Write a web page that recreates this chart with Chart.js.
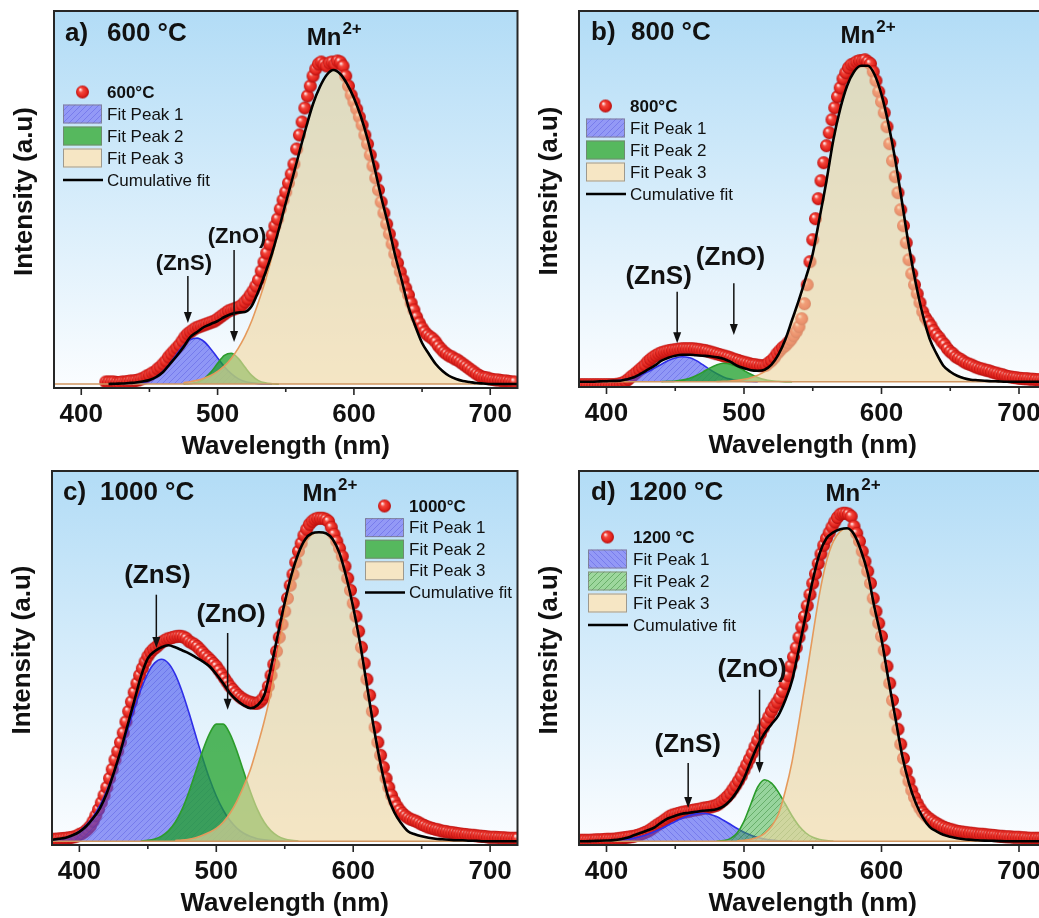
<!DOCTYPE html>
<html>
<head>
<meta charset="utf-8">
<title>PL deconvolution</title>
<script src="https://cdn.jsdelivr.net/npm/chart.js@4.4.0/dist/chart.umd.min.js"></script>
<style>
  html, body { margin: 0; padding: 0; background: #fff; width: 1039px; height: 918px; overflow: hidden; position: relative; }
  canvas { position: absolute; }
</style>
</head>
<body>
<canvas id="pa" width="525" height="470" style="left:0;top:0"></canvas>
<canvas id="pb" width="535" height="470" style="left:519px;top:0"></canvas>
<canvas id="pc" width="525" height="459" style="left:0;top:459px"></canvas>
<canvas id="pd" width="535" height="459" style="left:519px;top:459px"></canvas>
<script>
// labels
const xTitle = 'Wavelength (nm)';
const yTitle = 'Intensity (a.u)';
const xTicks = [400, 500, 600, 700];
const xMinorTicks = [450, 550, 650];
const panelLetters = ['a)', 'b)', 'c)', 'd)'];
const panelTemps = ['600 °C', '800 °C', '1000 °C', '1200 °C'];
const sampleLabels = ['600°C', '800°C', '1000°C', '1200 °C'];
const legendLabels = ['Fit Peak 1', 'Fit Peak 2', 'Fit Peak 3', 'Cumulative fit'];

// a) 600 °C  -- measured points every 2 nm from 418 nm, fitted curves every 5 nm
const a_dataStart = 418, a_dataStep = 2;
const a_data = [2, 2, 2, 2, 1.5, 1.5, 2, 2, 2.5, 3,
  3, 3.5, 4, 5, 6, 8, 9, 11, 12, 15,
  17, 20, 23, 27, 30, 33, 36, 39, 43, 47,
  50, 52, 54, 56, 57, 58, 59, 60, 61, 62,
  63, 65, 67, 69, 71, 73, 74, 75, 76, 77,
  79, 82, 85, 89, 93, 98, 104, 113, 122, 131,
  140, 149, 158, 165, 175, 184, 192, 201, 210, 220,
  235, 249, 262, 276, 288, 298, 308, 315, 320, 322,
  320, 318, 321, 322, 320, 323, 322, 318, 308, 298,
  289, 282, 275, 267, 259, 249, 240, 229, 218, 206,
  194, 182, 171, 160, 150, 140, 130, 121, 112, 104,
  96, 89, 81, 74, 67, 61, 56, 52, 49, 47,
  45, 42, 38, 35, 32, 30, 28, 27, 25, 24,
  22, 20, 18, 16, 14, 12, 10, 8.5, 7, 6.5,
  6, 5, 4.5, 4, 4, 3.5, 3, 3, 2.5, 2,
  2];
const a_peak1Start = 430;
const a_peak1 = [0.1, 0.2, 0.6, 1.6, 3.5, 7.1, 12.8, 20.6, 29.8, 38.4, 44.4, 45.9, 42.5, 35.1, 26, 17.3, 10.3, 5.4, 2.6, 1.1, 0.4, 0.1, 0];
const a_peak2Start = 475;
const a_peak2 = [0.1, 0.5, 1.7, 5.1, 11.6, 20.7, 28.6, 30.8, 25.9, 16.9, 8.6, 3.4, 1.1, 0.3, 0];
const a_peak3Start = 475;
const a_peak3 = [1.4, 2.3, 3.6, 5.7, 8.5, 12.6, 18.1, 25.6, 35.4, 47.7, 63, 82, 103, 128, 155, 181, 206, 232, 257, 280,
  297, 309, 314, 310, 300, 286, 268, 245, 217, 187, 160, 130, 104, 77, 58, 41, 30, 20, 13, 8, 5, 3, 2, 1, 0.5, 0, 0];
const a_fitStart = 420;
const a_fit = [0, 0.3, 0.5, 1, 1.5, 2.5, 4, 7, 12, 20, 28, 37, 47, 52, 57, 60, 63, 67, 70, 71.5,
  72, 78, 93, 111, 131, 155, 181, 206, 232, 257, 280, 297, 309, 314, 310, 300, 286, 268, 245, 217,
  187, 160, 130, 104, 77, 58, 41, 30, 20, 13, 8, 5, 3, 2, 1, 0.5, 0, 0, 0, 0, 0];

// b) 800 °C
const b_dataStart = 380, b_dataStep = 2;
const b_data = [-3, -3, -3, -3, -3, -3, -3, -3, -3, -3,
  -3, -3, -3, -3, -2.5, -2, -1.2, 0.5, 2.5, 5,
  7, 9.4, 11.8, 14.2, 16.8, 20, 22.4, 24.5, 26.3, 27.8,
  29, 29.8, 30.6, 31.2, 31.6, 32, 32.4, 32.8, 33, 33,
  33, 33, 32.7, 32.4, 32, 31.5, 31.1, 30.4, 29.6, 28.8,
  28, 27.2, 26.4, 25.6, 24.8, 24, 22.8, 22, 21.2, 20.3,
  19.5, 18.7, 18, 17.3, 17, 16.5, 16, 16, 16.5, 19,
  21, 24, 28, 31, 34, 36, 39, 42, 46, 50,
  55, 63, 78, 97, 120, 142, 163, 183, 201, 219,
  236, 249, 262, 274, 285, 294, 303, 309, 314, 317,
  318, 320, 321, 321, 322, 320, 318, 310, 301, 290,
  280, 269, 255, 238, 221, 205, 189, 172, 156, 139,
  122, 108, 97, 88, 79, 70, 64, 60, 56, 51,
  47, 44, 40, 37, 33, 30, 28, 25, 23.5, 22,
  20, 18.5, 17.5, 16.5, 15, 14, 13, 12.5, 11.5, 11,
  10, 9, 8.5, 7.5, 7, 6, 5.2, 4.7, 4.3, 4,
  3.5, 3.2, 3, 3, 2.5, 2.5, 2.2, 2, 2, 2];
const b_peak1Start = 400;
const b_peak1 = [0.3, 0.7, 1.3, 2.4, 4.1, 6.6, 9.8, 13.7, 17.5, 21.2, 23.8, 25, 24.2, 21.3, 17, 12.3, 8.2, 4.8, 2.6, 1.3, 0.6, 0.2, 0];
const b_peak2Start = 440;
const b_peak2 = [0.1, 0.3, 0.6, 1.6, 3.3, 6, 9.6, 13.6, 16.8, 18.5, 17.8, 15.1, 11.2, 7.4, 4.3, 2.1, 0.9, 0.4, 0.1, 0];
const b_peak3Start = 480;
const b_peak3 = [0.2, 0.4, 0.7, 1.3, 2.3, 4, 6.5, 10, 16, 26, 41, 60, 81, 104, 128, 164, 201, 242, 273, 296,
  310, 316, 316, 307, 287, 258, 222, 179, 135, 98, 67, 43, 28, 16, 10, 6, 3.5, 2, 1.5, 1, 0.5, 0.3, 0];
const b_fitStart = 380;
const b_fit = [0, 0, 0, 0.3, 0.5, 0.8, 1, 2.5, 4.5, 8, 12, 16, 21, 24, 26, 27, 27, 26.5, 26, 25.5,
  24.5, 23, 20, 16, 13.5, 11.5, 11, 12, 17, 27, 42, 62, 82, 104, 128, 164, 201, 242, 273, 296,
  310, 316, 316, 307, 287, 258, 222, 179, 135, 98, 67, 43, 28, 16, 10, 6, 3.5, 2, 1.5, 1,
  0.5, 0.3, 0, 0, 0, 0, 0, 0, 0];

// c) 1000 °C
const c_dataStart = 380, c_dataStep = 2;
const c_data = [2, 2, 2.2, 2.5, 2.8, 3, 3.4, 3.8, 4.4, 5.2,
  7, 7.8, 9.8, 12.2, 15.2, 20, 25.6, 31.8, 38.6, 46,
  54, 63, 72, 81.5, 90, 99, 108.5, 119.5, 130, 139.5,
  149, 158, 166, 173, 179.5, 185, 189, 192, 194, 196.6,
  199, 200.6, 202.2, 203, 203.8, 204.6, 205, 205, 204.4, 203,
  200, 198.4, 197, 194.8, 192, 189, 186, 183.5, 180.8, 177.8,
  175, 171, 167, 163, 159, 155, 151.8, 148.6, 146, 143.6,
  142, 140.4, 139.4, 138.6, 138, 138, 139.5, 142.5, 147, 155,
  166, 177, 190, 204, 217, 230, 243, 256, 267, 279,
  290, 298, 306, 312, 317, 320, 322, 323, 323, 323,
  322, 320, 314, 307, 300, 293, 285, 275, 263, 251,
  238, 225, 210, 194, 178, 162, 146, 130, 114, 99,
  86, 74, 63, 54, 46, 40, 35, 31, 28, 25.5,
  23.5, 22, 21, 20, 18.5, 17, 15.8, 14.5, 13.6, 12.8,
  12, 11.5, 10.5, 10, 9.7, 9, 8.7, 8.3, 7.8, 7.4,
  7, 6.8, 6.4, 6, 6, 5.5, 5.2, 5, 4.8, 4.4,
  4, 4, 4, 3.8, 3.6, 3.5, 3.2, 3, 3, 3,
  3];
const c_peak1Start = 380;
const c_peak1 = [1.1, 2, 3.6, 6.2, 10.2, 16.2, 24.6, 36, 50.6, 68.3, 88.6, 110.4, 132, 152, 168, 178.4, 182, 178, 166.9, 149.8,
  128.7, 105.7, 83.4, 62.8, 45.3, 31.3, 20.7, 13.2, 8, 4.7, 2.6, 1.4, 0.7, 0.3, 0.1];
const c_peak2Start = 445;
const c_peak2 = [0.3, 1, 2.4, 5.2, 10.4, 19.1, 32, 49.4, 69.8, 90.4, 107.5, 117.2, 117.2, 107.5, 90.4, 69.8, 49.4, 32, 19.1, 10.4,
  5.2, 2.4, 1, 0.3];
const c_peak3Start = 470;
const c_peak3 = [0.8, 1.2, 2, 3.5, 6, 9, 13, 19, 28, 40, 55, 72, 95, 120, 150, 188, 228, 260, 285, 300,
  307, 309, 308, 302, 288, 264, 234, 198, 156, 114, 77, 47, 29, 18, 10, 7, 5, 3.5, 2.5, 2,
  1.5, 1, 1, 0.5, 0.5, 0, 0];
const c_fitStart = 380;
const c_fit = [1.5, 2.5, 3.5, 6, 9.5, 15, 23, 33, 48, 68, 90, 115, 140, 165, 183, 190, 194, 196, 194, 191,
  188, 184, 180, 175, 167, 158, 148, 141, 136, 133, 136, 146, 174, 207, 239, 267, 288, 302, 308, 309,
  308, 302, 288, 264, 234, 198, 156, 114, 77, 47, 29, 18, 10, 7, 5, 3.5, 2.5, 2, 1.5, 1,
  1, 0.5, 0.5, 0, 0, 0, 0, 0, 0];

// d) 1200 °C
const d_dataStart = 380, d_dataStep = 2;
const d_data = [1, 1, 1, 1, 1, 1.2, 1.4, 1.5, 1.5, 1.8,
  2, 2, 2, 2.2, 2.6, 3, 3.4, 3.8, 4.2, 4.6,
  5, 5.8, 6.6, 7.6, 8.8, 10, 11.6, 13.5, 15.5, 17.4,
  19, 21, 23, 25, 26.2, 27, 27.8, 28.6, 29.2, 29.6,
  30, 30.8, 31.3, 31.7, 32.2, 33, 33.4, 33.8, 34.4, 35.2,
  36, 37.6, 39.8, 42.2, 44.8, 48, 52, 56, 60.4, 65.2,
  71, 76.6, 82.2, 88, 94.6, 101, 107.4, 113.2, 118.8, 124.4,
  130, 134.8, 139, 143.6, 150, 158, 166, 175.2, 184.4, 193.6,
  204, 214.4, 224.8, 235.6, 246.8, 258, 267.6, 277.8, 287.4, 296,
  303, 308.6, 314.2, 319.4, 323.8, 327, 328, 328, 327.2, 325,
  315, 308, 300, 290, 280, 270, 258, 243, 230, 218,
  205, 191, 175, 158, 141, 127, 112, 97, 83, 70,
  60, 51, 44, 38, 33, 29, 26, 23.5, 21.5, 19.5,
  18, 16.4, 15, 13.8, 12.8, 12, 11.2, 10.4, 9.8, 9.4,
  9, 8.6, 8.2, 8, 7.6, 7.2, 7, 7, 6.6, 6.2,
  6, 5.8, 5.4, 5, 5, 4.6, 4.5, 4.4, 4, 4,
  4, 3.6, 3.5, 3.2, 3, 3, 3, 3, 3, 3];
const d_peak1Start = 400;
const d_peak1 = [0.4, 0.7, 1.2, 2, 3.2, 4.8, 7, 9.7, 12.8, 16.3, 19.8, 23, 25.7, 27.4, 28, 27.1, 24.7, 21.1, 17, 12.8,
  9.1, 6.1, 3.8, 2.2, 1.2, 0.6, 0.3, 0.1];
const d_peak2Start = 480;
const d_peak2 = [0.1, 0.7, 2.7, 8.3, 20, 37.3, 54.3, 61.5, 58.2, 49.2, 37.3, 25.3, 15.3, 8.3, 4, 1.8, 0.7, 0.2];
const d_peak3Start = 495;
const d_peak3 = [0.5, 1, 2, 4, 8, 15, 27, 50, 80, 120, 162, 206, 248, 280, 300, 310, 313, 307, 291, 268,
  233, 202, 162, 124, 86, 58, 38, 24, 14.5, 10, 6.5, 4.5, 3, 2, 1.5, 1, 0.7, 0.5, 0.3, 0, 0, 0];
const d_fitStart = 380;
const d_fit = [0, 0, 0.3, 0.5, 0.8, 1.2, 2, 3.5, 6, 8.5, 11, 14, 19, 23, 25.5, 27.5, 28.5, 29.5, 30.5, 31,
  32, 35, 41, 50, 63, 80, 96, 108, 117, 126, 141, 161, 193, 227, 261, 288, 303, 309, 312, 313,
  307, 291, 268, 233, 202, 162, 124, 86, 58, 38, 24, 14.5, 10, 6.5, 4.5, 3, 2, 1.5, 1, 0.7,
  0.5, 0.3, 0, 0, 0, 0, 0, 0, 0];

const FONT = '"Liberation Sans", Arial, sans-serif';

function series(start, step, values) {
  return values.map((y, i) => ({ x: start + i * step, y: y }));
}

function hatch(bg, line, dir) {
  const s = 6;
  const c = document.createElement('canvas');
  c.width = c.height = s;
  const g = c.getContext('2d');
  g.fillStyle = bg;
  g.fillRect(0, 0, s, s);
  g.strokeStyle = line;
  g.lineWidth = 1;
  g.beginPath();
  if (dir === '/') {
    g.moveTo(0, s); g.lineTo(s, 0);
    g.moveTo(-1, 1); g.lineTo(1, -1);
    g.moveTo(s - 1, s + 1); g.lineTo(s + 1, s - 1);
  } else {
    g.moveTo(0, 0); g.lineTo(s, s);
    g.moveTo(s - 1, -1); g.lineTo(s + 1, 1);
    g.moveTo(-1, s - 1); g.lineTo(1, s + 1);
  }
  g.stroke();
  return g.createPattern(c, 'repeat');
}

function makeSphere(r) {
  const c = document.createElement('canvas');
  c.width = c.height = 2 * r + 2;
  const g = c.getContext('2d');
  const cx = r + 1, cy = r + 1;
  const grad = g.createRadialGradient(cx - r * 0.35, cy - r * 0.4, r * 0.08, cx, cy, r);
  grad.addColorStop(0, '#ffe0e0');
  grad.addColorStop(0.3, '#f4473c');
  grad.addColorStop(0.75, '#e0221c');
  grad.addColorStop(1, '#b00d0d');
  g.fillStyle = grad;
  g.beginPath();
  g.arc(cx, cy, r, 0, Math.PI * 2);
  g.fill();
  return c;
}

const sphere = makeSphere(6.5);

const blueHatchA = hatch('rgba(75,85,240,0.6)', 'rgba(50,50,210,0.28)', '/');
const blueHatchD = hatch('rgba(75,85,240,0.6)', 'rgba(50,50,210,0.28)', '\\');
const greenSolid = 'rgba(30,160,40,0.75)';
const greenHatchD = hatch('rgba(60,175,60,0.5)', 'rgba(30,120,30,0.4)', '/');
const tanFill = 'rgba(240,214,160,0.62)';

const panels = [
  { canvas: 'pa', width: 525, height: 470, area: [54, 11, 520, 388], yMin: -4, yMax: 373,
    data: [a_dataStart, a_dataStep, a_data], p1: [a_peak1Start, a_peak1], p2: [a_peak2Start, a_peak2],
    p3: [a_peak3Start, a_peak3], fit: [a_fitStart, a_fit], fill1: blueHatchA, fill2: greenSolid,
    title: [11, 53, 30], mn: [565.4, 339], noteSize: 22,
    notes: [['(ZnS)', 475.3, 120, 478.2, 108, 61], ['(ZnO)', 514.3, 147, 512.1, 134, 42]],
    legend: { x: 9, y: 81, tx: 53, row: 22 } },
  { canvas: 'pb', width: 535, height: 470, area: [60, 11, 528, 387], yMin: -5.3, yMax: 370.7,
    data: [b_dataStart, b_dataStep, b_data], p1: [b_peak1Start, b_peak1], p2: [b_peak2Start, b_peak2],
    p3: [b_peak3Start, b_peak3], fit: [b_fitStart, b_fit], fill1: blueHatchA, fill2: greenSolid,
    title: [12, 52, 29], mn: [570.2, 338.5], noteSize: 26,
    notes: [['(ZnS)', 437.9, 105, 451.4, 90, 38.4], ['(ZnO)', 490.2, 123.4, 492.6, 98.4, 46.7]],
    legend: { x: 7, y: 95, tx: 51, row: 22 } },
  { canvas: 'pc', width: 525, height: 459, area: [52, 12, 519, 386], yMin: -3.7, yMax: 370.3,
    data: [c_dataStart, c_dataStep, c_data], p1: [c_peak1Start, c_peak1], p2: [c_peak2Start, c_peak2],
    p3: [c_peak3Start, c_peak3], fit: [c_fitStart, c_fit], fill1: blueHatchA, fill2: greenSolid,
    title: [11, 48, 29], mn: [562.9, 340], noteSize: 26,
    notes: [['(ZnS)', 457, 265, 456.2, 246.6, 193.3], ['(ZnO)', 510.8, 226.6, 508.3, 208.3, 131.6]],
    legend: { x: 313, y: 35, tx: 357, row: 21.6 } },
  { canvas: 'pd', width: 535, height: 459, area: [60, 12, 528, 386], yMin: -3.7, yMax: 370.3,
    data: [d_dataStart, d_dataStep, d_data], p1: [d_peak1Start, d_peak1], p2: [d_peak2Start, d_peak2],
    p3: [d_peak3Start, d_peak3], fit: [d_fitStart, d_fit], fill1: blueHatchD, fill2: greenHatchD,
    title: [12, 50, 29], mn: [559.3, 340], noteSize: 26,
    notes: [['(ZnS)', 459.1, 96.6, 459.4, 78.3, 33.3], ['(ZnO)', 505.9, 171.6, 511.3, 151.6, 68.3]],
    legend: { x: 9, y: 66, tx: 54, row: 22 } }
];

const panelById = {};

function arrowDown(ctx, x, y1, y2) {
  ctx.beginPath();
  ctx.moveTo(x, y1);
  ctx.lineTo(x, y2 - 8);
  ctx.stroke();
  ctx.beginPath();
  ctx.moveTo(x, y2);
  ctx.lineTo(x - 4, y2 - 11);
  ctx.lineTo(x + 4, y2 - 11);
  ctx.closePath();
  ctx.fill();
}

const decor = {
  id: 'decor',
  beforeDatasetsDraw(chart) {
    const { ctx, chartArea: a } = chart;
    const g = ctx.createLinearGradient(0, a.top, 0, a.bottom);
    g.addColorStop(0, '#b2dcf6');
    g.addColorStop(1, '#fbfdff');
    ctx.save();
    ctx.fillStyle = g;
    ctx.fillRect(a.left, a.top, a.right - a.left, a.bottom - a.top);
    ctx.restore();
  },
  afterDatasetDraw(chart, args) {
    // baseline of the fitted peaks, under the cumulative curve
    if (args.index !== 3) return;
    const { ctx, chartArea: a } = chart;
    const y0 = chart.scales.y.getPixelForValue(0);
    ctx.save();
    ctx.strokeStyle = '#d09660';
    ctx.lineWidth = 1.6;
    ctx.beginPath();
    ctx.moveTo(a.left, y0);
    ctx.lineTo(a.right, y0);
    ctx.stroke();
    ctx.restore();
  },
  afterDraw(chart) {
    const p = panelById[chart.canvas.id];
    const idx = panels.indexOf(p);
    const { ctx, chartArea: a } = chart;
    const xs = chart.scales.x, ys = chart.scales.y;
    ctx.save();

    // frame and ticks
    ctx.strokeStyle = '#262626';
    ctx.lineWidth = 2;
    ctx.strokeRect(a.left, a.top, a.right - a.left, a.bottom - a.top);
    ctx.lineWidth = 1.6;
    ctx.beginPath();
    xTicks.forEach(v => {
      const x = xs.getPixelForValue(v);
      ctx.moveTo(x, a.bottom); ctx.lineTo(x, a.bottom + 7);
    });
    xMinorTicks.forEach(v => {
      const x = xs.getPixelForValue(v);
      ctx.moveTo(x, a.bottom); ctx.lineTo(x, a.bottom + 4);
    });
    ctx.stroke();

    ctx.fillStyle = '#111';
    ctx.font = 'bold 26px ' + FONT;
    ctx.textAlign = 'center';
    ctx.textBaseline = 'alphabetic';
    xTicks.forEach(v => ctx.fillText(String(v), xs.getPixelForValue(v), a.bottom + 34));
    ctx.fillText(xTitle, (a.left + a.right) / 2, a.bottom + 66);

    ctx.save();
    ctx.translate(a.left - 22, (a.top + a.bottom) / 2 - 8);
    ctx.rotate(-Math.PI / 2);
    ctx.fillText(yTitle, 0, 0);
    ctx.restore();

    // panel heading
    ctx.textAlign = 'left';
    ctx.fillText(panelLetters[idx], a.left + p.title[0], a.top + p.title[2]);
    ctx.fillText(panelTemps[idx], a.left + p.title[1], a.top + p.title[2]);

    // Mn2+ label
    const mx = xs.getPixelForValue(p.mn[0]), my = ys.getPixelForValue(p.mn[1]);
    ctx.font = 'bold 24px ' + FONT;
    ctx.fillText('Mn', mx, my);
    const mw = ctx.measureText('Mn').width;
    ctx.font = 'bold 17px ' + FONT;
    ctx.fillText('2+', mx + mw + 1, my - 11);

    // (ZnS) / (ZnO) notes with arrows
    ctx.font = 'bold ' + p.noteSize + 'px ' + FONT;
    ctx.textAlign = 'center';
    ctx.textBaseline = 'middle';
    ctx.strokeStyle = '#111';
    ctx.lineWidth = 1.5;
    p.notes.forEach(n => {
      ctx.fillText(n[0], xs.getPixelForValue(n[1]), ys.getPixelForValue(n[2]));
      arrowDown(ctx, xs.getPixelForValue(n[3]), ys.getPixelForValue(n[4]), ys.getPixelForValue(n[5]));
    });

    // legend
    const L = p.legend;
    const lx = a.left + L.x, tx = a.left + L.tx;
    let ly = a.top + L.y;
    ctx.textAlign = 'left';
    ctx.drawImage(sphere, lx + 19.5 - sphere.width / 2, ly - sphere.height / 2);
    ctx.font = 'bold 17px ' + FONT;
    ctx.fillText(sampleLabels[idx], tx, ly + 1);
    ctx.font = '17px ' + FONT;
    for (let i = 1; i <= 3; i++) {
      ly += L.row;
      const ds = chart.data.datasets[i];
      ctx.fillStyle = '#fff';
      ctx.fillRect(lx, ly - 9.5, 39, 19);
      ctx.fillStyle = ds.backgroundColor;
      ctx.fillRect(lx, ly - 9.5, 39, 19);
      ctx.strokeStyle = 'rgba(120,120,120,0.7)';
      ctx.lineWidth = 1;
      ctx.strokeRect(lx + 0.5, ly - 9, 38, 18);
      ctx.fillStyle = '#111';
      ctx.fillText(legendLabels[i - 1], tx, ly + 1);
    }
    ly += L.row;
    ctx.strokeStyle = '#000';
    ctx.lineWidth = 2.5;
    ctx.beginPath();
    ctx.moveTo(lx, ly); ctx.lineTo(lx + 40, ly);
    ctx.stroke();
    ctx.fillText(legendLabels[3], tx, ly + 1);

    ctx.restore();
  }
};

function buildChart(p) {
  panelById[p.canvas] = p;
  const [l, t, r, b] = p.area;
  return new Chart(document.getElementById(p.canvas), {
    type: 'line',
    data: {
      datasets: [
        { label: 'data', data: series(p.data[0], p.data[1], p.data[2]), showLine: false,
          pointStyle: sphere, pointRadius: 6.5, order: 10, clip: 0 },
        { label: legendLabels[0], data: series(p.p1[0], 5, p.p1[1]), fill: 'origin',
          backgroundColor: p.fill1, borderColor: '#2f2fe8', borderWidth: 1.6, pointRadius: 0, order: 4, clip: 0 },
        { label: legendLabels[1], data: series(p.p2[0], 5, p.p2[1]), fill: 'origin',
          backgroundColor: p.fill2, borderColor: '#2c9c2c', borderWidth: 1.6, pointRadius: 0, order: 3, clip: 0 },
        { label: legendLabels[2], data: series(p.p3[0], 5, p.p3[1]), fill: 'origin',
          backgroundColor: tanFill, borderColor: '#e59a5c', borderWidth: 1.6, pointRadius: 0, order: 2, clip: 0 },
        { label: legendLabels[3], data: series(p.fit[0], 5, p.fit[1]), fill: false,
          borderColor: '#000', borderWidth: 2.6, pointRadius: 0, order: 1, clip: 0 }
      ]
    },
    options: {
      responsive: false,
      animation: false,
      devicePixelRatio: 1,
      events: [],
      layout: { padding: { left: l, top: t, right: p.width - r, bottom: p.height - b } },
      elements: { line: { cubicInterpolationMode: 'monotone' } },
      scales: {
        x: { type: 'linear', min: 380, max: 720, display: false },
        y: { type: 'linear', min: p.yMin, max: p.yMax, display: false }
      },
      plugins: { legend: { display: false }, tooltip: { enabled: false } }
    },
    plugins: [decor]
  });
}

panels.forEach(buildChart);
</script>
</body>
</html>
